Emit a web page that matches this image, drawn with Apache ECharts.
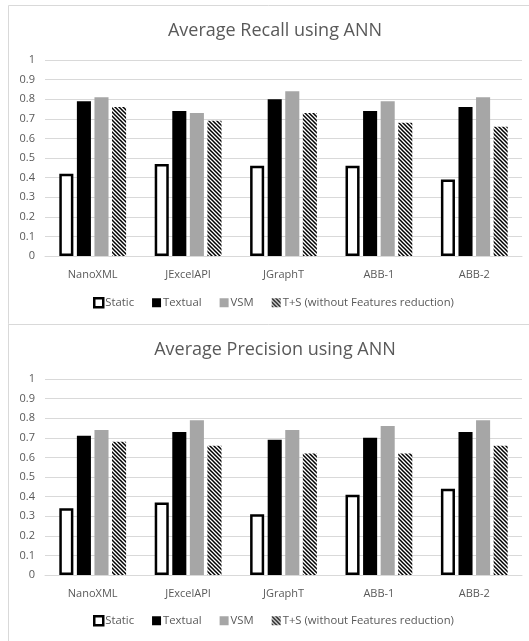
<!DOCTYPE html>
<html>
<head>
<meta charset="utf-8">
<script src="https://cdn.jsdelivr.net/npm/echarts@6/dist/echarts.min.js"></script>
<style>html,body{margin:0;padding:0;background:#fff;}#c{width:529px;height:641px;}</style>
</head>
<body>
<div id="c"></div>
<script>
const categories = ['NanoXML', 'JExcelAPI', 'JGraphT', 'ABB-1', 'ABB-2'];
const seriesNames = ['Static', 'Textual', 'VSM', 'T+S (without Features reduction)'];
const recallStatic = [0.42, 0.47, 0.46, 0.46, 0.39];
const recallTextual = [0.79, 0.74, 0.80, 0.74, 0.76];
const recallVSM = [0.81, 0.73, 0.84, 0.79, 0.81];
const recallTS = [0.76, 0.69, 0.73, 0.68, 0.66];
const precisionStatic = [0.34, 0.37, 0.31, 0.41, 0.44];
const precisionTextual = [0.71, 0.73, 0.69, 0.70, 0.73];
const precisionVSM = [0.74, 0.79, 0.74, 0.76, 0.79];
const precisionTS = [0.68, 0.66, 0.62, 0.62, 0.66];
const titles = ['Average Recall using ANN', 'Average Precision using ANN'];

function hatchCanvas() {
  const c = document.createElement('canvas');
  c.width = 4; c.height = 4;
  const ctx = c.getContext('2d');
  ctx.fillStyle = '#fff';
  ctx.fillRect(0, 0, 4, 4);
  ctx.strokeStyle = '#000';
  ctx.lineWidth = 1.5;
  ctx.beginPath();
  ctx.moveTo(-2, -2); ctx.lineTo(6, 6);
  ctx.moveTo(-2, 2); ctx.lineTo(2, 6);
  ctx.moveTo(2, -2); ctx.lineTo(6, 2);
  ctx.stroke();
  return c;
}
const hatch = { image: hatchCanvas(), repeat: 'repeat' };

const txt = '#595959';
const font = 'Open Sans';
const styles = [
  { color: '#fff', borderColor: '#000', borderWidth: 2.5 },
  { color: '#000' },
  { color: '#a6a6a6' },
  { color: hatch }
];
const grids = [
  { left: 45, right: 7, top: 60, height: 196 },
  { left: 45, right: 7, top: 379, height: 196 }
];
const data = [
  [recallStatic, recallTextual, recallVSM, recallTS],
  [precisionStatic, precisionTextual, precisionVSM, precisionTS]
];

const option = {
  animation: false,
  backgroundColor: '#fff',
  textStyle: { fontFamily: font },
  graphic: [
    { type: 'line', shape: { x1: 8.5, y1: 5.5, x2: 529, y2: 5.5 }, style: { stroke: '#d9d9d9', lineWidth: 1 } },
    { type: 'line', shape: { x1: 8.5, y1: 5.5, x2: 8.5, y2: 641 }, style: { stroke: '#d9d9d9', lineWidth: 1 } },
    { type: 'line', shape: { x1: 8.5, y1: 324.5, x2: 529, y2: 324.5 }, style: { stroke: '#d9d9d9', lineWidth: 1 } }
  ],
  title: titles.map((t, i) => ({
    text: t, left: 270, textAlign: 'center', top: i === 0 ? 17 : 336,
    textStyle: { fontFamily: font, fontSize: 18, fontWeight: 'normal', color: txt }
  })),
  legend: [0, 1].map(i => ({
    left: 88, top: i === 0 ? 292 : 610,
    itemWidth: 9, itemHeight: 9, itemGap: 18,
    textStyle: { fontFamily: font, fontSize: 11.3, color: txt, padding: [0, 0, 0, -3] },
    data: seriesNames.map((n, k) => ({ name: n, icon: 'rect', itemStyle: styles[k] }))
  })),
  grid: grids,
  xAxis: grids.map((g, i) => ({
    type: 'category', gridIndex: i, data: categories,
    axisLine: { lineStyle: { color: '#d9d9d9' } },
    axisTick: { show: false },
    axisLabel: { color: txt, fontSize: 11, margin: 13, fontFamily: font }
  })),
  yAxis: grids.map((g, i) => ({
    type: 'value', gridIndex: i, min: 0, max: 1, interval: 0.1,
    axisLine: { show: false }, axisTick: { show: false },
    splitLine: { lineStyle: { color: '#d9d9d9' } },
    axisLabel: { color: txt, fontSize: 11, margin: 10, fontFamily: font }
  })),
  series: []
};
[0, 1].forEach(i => {
  seriesNames.forEach((n, k) => {
    option.series.push({
      type: 'bar', name: n, xAxisIndex: i, yAxisIndex: i,
      data: data[i][k], itemStyle: styles[k],
      barGap: '25%', barCategoryGap: '30%'
    });
  });
});
const chart = echarts.init(document.getElementById('c'), null, { renderer: 'canvas' });
chart.setOption(option);
</script>
</body>
</html>
